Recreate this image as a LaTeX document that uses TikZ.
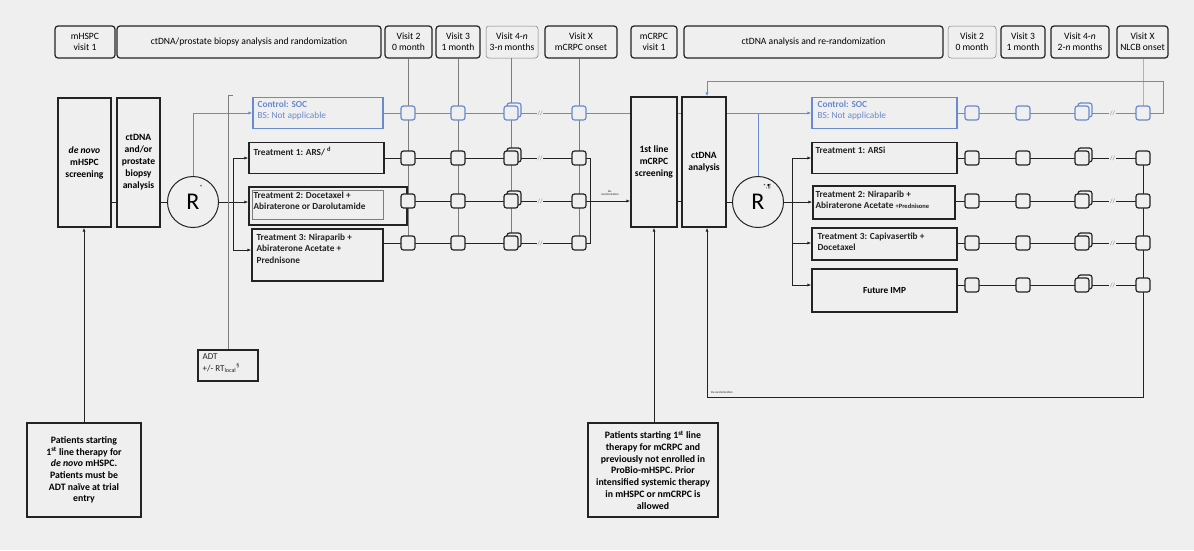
\documentclass[tikz,border=0pt]{standalone}
\usepackage{fontspec}
\setmainfont{Carlito}
\usetikzlibrary{arrows.meta,calc}
\definecolor{bgc}{RGB}{239,239,239}
\definecolor{ink}{RGB}{35,35,35}
\definecolor{bl}{RGB}{105,138,205}
\definecolor{gr}{RGB}{125,125,125}
\begin{document}
\begin{tikzpicture}[x=1pt,y=-1pt,
  hdr/.style={draw=ink, line width=1.2pt, rounded corners=3pt, align=center, font=\fontsize{9.6}{11}\selectfont, inner sep=0pt, minimum height=32pt},
  hdrthin/.style={hdr, draw=gr, line width=0.5pt},
  tall/.style={draw=ink, line width=1.2pt, align=center, font=\bfseries\fontsize{9.6}{12}\selectfont, inner sep=0pt},
  arm/.style={draw=ink, line width=1.2pt, inner sep=0pt},
  armb/.style={draw=bl, line width=1.2pt, inner sep=0pt},
  armtxt/.style={anchor=north west, align=left, font=\bfseries\fontsize{9.3}{11.8}\selectfont, inner sep=0pt, text=ink},
  pat/.style={draw=ink, line width=1.2pt, align=center, font=\bfseries\fontsize{9.8}{11.7}\selectfont, inner sep=0pt},
  sq/.style={draw=ink, line width=1.2pt, rounded corners=2.5pt, fill=bgc, minimum size=14pt, inner sep=0pt},
  sqb/.style={sq, draw=bl},
  ln/.style={draw=ink, line width=1pt},
  lnb/.style={draw=bl, line width=1pt},
  vline/.style={draw=gr, line width=0.8pt},
  arr/.style={-{Latex[length=4pt,width=3pt]}},
  brk/.style={fill=bgc, text=gr, font=\fontsize{6.5}{6.5}\selectfont, inner sep=0.6pt},
  rcirc/.style={circle, draw=ink, line width=1pt, minimum size=51pt, inner sep=0pt, font=\fontsize{24}{24}\selectfont},
  supl/.style={inner sep=0pt, font=\fontsize{6}{6}\selectfont},
  tinyl/.style={inner sep=0pt, align=center, font=\fontsize{3}{3.5}\selectfont, text=ink}
]
\fill[bgc] (0,0) rectangle (1194,550);
\useasboundingbox (0,0) rectangle (1194,550);

% ---------------- headers
\node[hdr, minimum width=60pt] (h1) at (85,42) {mHSPC\\visit 1};
\node[hdr, minimum width=264pt] (h2) at (249,42) {ctDNA/prostate biopsy analysis and randomization};
\node[hdr, minimum width=47pt] (h3) at (408.5,42) {Visit 2\\0 month};
\node[hdr, minimum width=44pt] (h4) at (458,42) {Visit 3\\1 month};
\node[hdrthin, minimum width=52pt] (h5) at (512,42) {Visit 4-\textit{n}\\3-\textit{n} months};
\node[hdr, minimum width=72pt] (h6) at (581,42) {Visit X\\mCRPC onset};
\node[hdr, minimum width=46pt] (h7) at (654,42) {mCRPC\\visit 1};
\node[hdr, minimum width=259pt] (h8) at (813.5,42) {ctDNA analysis and re-randomization};
\node[hdrthin, minimum width=48pt] (h9) at (972,42) {Visit 2\\0 month};
\node[hdr, minimum width=44pt] (h10) at (1023,42) {Visit 3\\1 month};
\node[hdr, minimum width=58pt] (h11) at (1080,42) {Visit 4-\textit{n}\\2-\textit{n} months};
\node[hdr, minimum width=51pt] (h12) at (1142.5,42) {Visit X\\NLCB onset};

% ---------------- left part
\node[tall, minimum width=53pt, minimum height=129pt] (denovo) at (84.5,162.5) {\textit{de novo}\\mHSPC\\screening};
\node[tall, minimum width=43pt, minimum height=129pt] (bio) at (138.5,162.5) {ctDNA\\and/or\\prostate\\biopsy\\analysis};
\node[rcirc] (R1) at (193,202) {R};
\node[supl] (R1s) at (201,187) {*};

\node[armb, minimum width=130pt, minimum height=31pt] (ctl1) at (318,113) {};
\node[armtxt, text=bl, font=\fontsize{9.3}{11.5}\selectfont] (ctl1t) at ([shift={(5pt,-3.5pt)}]ctl1.north west) {\textbf{Control: SOC}\\BS: Not applicable};
\node[arm, minimum width=135pt, minimum height=31pt] (t1a) at (316.5,158) {};
\node[armtxt] (t1at) at ([shift={(5pt,-5pt)}]t1a.north west) {Treatment 1: ARS/ \textsuperscript{d}};
\node[arm, minimum width=158pt, minimum height=38pt] (t2a) at (328,206) {};
\node[draw=gr, line width=0.5pt, minimum width=131pt, minimum height=29pt, inner sep=0pt] (t2ain) at (317.5,204.5) {};
\node[armtxt] (t2at) at ([shift={(5pt,-5pt)}]t2a.north west) {Treatment 2: Docetaxel +\\Abiraterone or Darolutamide};
\node[arm, minimum width=131pt, minimum height=52pt] (t3a) at (317.5,255) {};
\node[armtxt] (t3at) at ([shift={(5pt,-5pt)}]t3a.north west) {Treatment 3: Niraparib +\\Abiraterone Acetate +\\Prednisone};

\node[arm, minimum width=60pt, minimum height=31pt] (adt) at (228,365.5) {};
\node[armtxt, font=\fontsize{9}{12}\selectfont] (adtt) at ([shift={(5pt,-4pt)}]adt.north west) {ADT\\+/- RT\textsubscript{local}\textsuperscript{§}};

\node[pat, minimum width=114pt, minimum height=94pt] (pat1) at (84,470) {Patients starting\\1\textsuperscript{st} line therapy for\\\textit{de novo} mHSPC.\\Patients must be\\ADT naïve at trial\\entry};

% ---------------- middle part
\node[tall, minimum width=46pt, minimum height=130pt] (scr) at (654,162) {1st line\\mCRPC\\screening};
\node[tall, minimum width=44pt, minimum height=130pt] (ct2) at (704,162) {ctDNA\\analysis};
\node[rcirc] (R2) at (758,202) {R};
\node[supl] (R2s) at (767,187) {*,¶};
\node[pat, minimum width=130pt, minimum height=94pt] (pat2) at (653,470) {Patients starting 1\textsuperscript{st} line\\therapy for mCRPC and\\previously not enrolled in\\ProBio-mHSPC. Prior\\intensified systemic therapy\\in mHSPC or nmCRPC is\\allowed};

% ---------------- right part
\node[armb, minimum width=145pt, minimum height=31pt] (ctl2) at (884.5,113) {};
\node[armtxt, text=bl, font=\fontsize{9.3}{11.5}\selectfont] (ctl2t) at ([shift={(6pt,-3.5pt)}]ctl2.north west) {\textbf{Control: SOC}\\BS: Not applicable};
\node[arm, minimum width=145pt, minimum height=31pt] (t1b) at (884.5,158) {};
\node[armtxt] (t1bt) at ([shift={(4pt,-5pt)}]t1b.north west) {Treatment 1: ARSi};
\node[arm, minimum width=142pt, minimum height=33pt] (t2b) at (884,202.5) {};
\node[armtxt] (t2bt) at ([shift={(3pt,-5pt)}]t2b.north west) {Treatment 2: Niraparib +\\Abiraterone Acetate {\fontsize{6.5}{7}\selectfont +Prednisone}};
\node[arm, minimum width=145pt, minimum height=32pt] (t3b) at (884.5,244) {};
\node[armtxt] (t3bt) at ([shift={(6pt,-5pt)}]t3b.north west) {Treatment 3: Capivasertib +\\Docetaxel};
\node[arm, minimum width=145pt, minimum height=43pt, font=\bfseries\fontsize{9.3}{10}\selectfont] (fimp) at (884.5,290.5) {Future IMP};

% ---------------- coordinates
\foreach \c/\x in {1/408,2/458,3/511,4/579} {
  \foreach \r/\y in {1/113,2/158,3/201,4/243} {
    \coordinate (pL-\c-\r) at (\x,\y);
  }
}
\foreach \c/\x in {1/972,2/1023,3/1082,4/1143} {
  \foreach \r/\y in {1/113,2/158,3/201,4/243,5/285} {
    \coordinate (pR-\c-\r) at (\x,\y);
  }
}
\coordinate (bL) at (233,202);
\coordinate (bL1) at (233,158);
\coordinate (bL3) at (233,250);
\coordinate (brT) at (228,95);
\coordinate (jL1) at (590,158);
\coordinate (jL2) at (590,201);
\coordinate (jL3) at (590,243);
\coordinate (bR) at (792,202);
\coordinate (bR1) at (792,158);
\coordinate (bR3) at (792,243);
\coordinate (bR4) at (792,285);
\coordinate (lpT) at (707,81);
\coordinate (lpB) at (707,397);

% ---------------- left connectors
\draw[ln] (denovo.east |- R1) -- (bio.west |- R1);
\draw[ln] (bio.east |- R1) -- (R1.west);
\draw[lnb,arr] (R1.north) |- (ctl1.west);
\draw[ln] (R1.east) -- (bL);
\draw[ln] (bL1) -- (bL3);
\draw[ln,arr] (bL1) -- (bL1 -| t1a.west);
\draw[ln,arr] (bL) -- (bL -| t2a.west);
\draw[ln,arr] (bL3) -- (bL3 -| t3a.west);
\draw[vline, draw=gr] ([xshift=5pt]brT) -- (brT) -- (brT |- adt.north);
\draw[ln,arr] (pat1.north) -- (pat1.north |- denovo.south);

% visit columns (left)
\foreach \c/\h in {1/h3,2/h4,3/h5,4/h6} {
  \draw[vline] (pL-\c-1 |- \h.south) -- (pL-\c-4);
}
% rows (left)
\draw[lnb] (ctl1.east) -- (ctl1.east -| scr.west);
\draw[ln] (t1a.east) -- (jL1) -- (jL3) -- (t3a.east |- jL3);
\draw[ln] (t2a.east |- jL2) -- (jL2);
\draw[ln,arr] (jL2) -- (jL2 -| scr.west);
\node[tinyl] (rr1) at (610,193) {Re-\\randomization};

% ---------------- middle connectors
\draw[ln] (scr.east |- jL2) -- (ct2.west |- jL2);
\draw[lnb] (scr.east |- ctl1.east) -- (ct2.west |- ctl1.east);
\draw[ln] (ct2.east |- R2) -- (R2.west);
\draw[lnb,arr] (ct2.east |- ctl2.west) -- (ctl2.west);
\draw[lnb] (R2.north) -- (R2.north |- ctl2.west);
\draw[ln,arr] (pat2.north -| scr.south) -- (scr.south);

% ---------------- right connectors
\draw[ln] (R2.east) -- (bR);
\draw[ln] (bR1) -- (bR4);
\draw[ln,arr] (bR1) -- (bR1 -| t1b.west);
\draw[ln,arr] (bR) -- (bR -| t2b.west);
\draw[ln,arr] (bR3) -- (bR3 -| t3b.west);
\draw[ln,arr] (bR4) -- (bR4 -| fimp.west);

\draw[vline, draw=gr!60] (pR-4-1 |- h12.south) -- (pR-4-1);
\draw[lnb] (ctl2.east) -- (pR-4-1);
\draw[ln] (t1b.east) -- (pR-4-2);
\draw[ln] (t2b.east |- pR-4-3) -- (pR-4-3);
\draw[ln] (t3b.east |- pR-4-4) -- (pR-4-4);
\draw[ln] (fimp.east |- pR-4-5) -- (pR-4-5);
\draw[lnb,arr] (pR-4-1) -- ++(20,0) |- (lpT) -- (lpT |- ct2.north);
\draw[ln] (pR-4-2) |- (lpB);
\draw[ln,arr] (lpB) -- (lpB |- ct2.south);
\node[tinyl, anchor=south west] (rr2) at (711,394) {Re-randomization};

% ---------------- break marks
\foreach \r in {1,2,3,4} {
  \node[brk] (bkL\r) at ($(pL-3-\r)!0.43!(pL-4-\r)$) {//};
}
\foreach \r in {1,2,3,4,5} {
  \node[brk] (bkR\r) at ($(pR-3-\r)!0.5!(pR-4-\r)$) {//};
}

% ---------------- visit squares
\foreach \c in {1,2,4} {
  \node[sqb] (sL-\c-1) at (pL-\c-1) {};
  \foreach \r in {2,3,4} { \node[sq] (sL-\c-\r) at (pL-\c-\r) {}; }
}
\node[sqb] (sL-3-1b) at ([shift={(3pt,3pt)}]pL-3-1) {};
\node[sqb] (sL-3-1) at (pL-3-1) {};
\foreach \r in {2,3,4} {
  \node[sq] (sL-3-\r b) at ([shift={(3pt,3pt)}]pL-3-\r) {};
  \node[sq] (sL-3-\r) at (pL-3-\r) {};
}
\foreach \c in {1,2,4} {
  \node[sqb] (sR-\c-1) at (pR-\c-1) {};
  \foreach \r in {2,3,4,5} { \node[sq] (sR-\c-\r) at (pR-\c-\r) {}; }
}
\node[sqb] (sR-3-1b) at ([shift={(3pt,3pt)}]pR-3-1) {};
\node[sqb] (sR-3-1) at (pR-3-1) {};
\foreach \r in {2,3,4,5} {
  \node[sq] (sR-3-\r b) at ([shift={(3pt,3pt)}]pR-3-\r) {};
  \node[sq] (sR-3-\r) at (pR-3-\r) {};
}
\end{tikzpicture}
\end{document}
